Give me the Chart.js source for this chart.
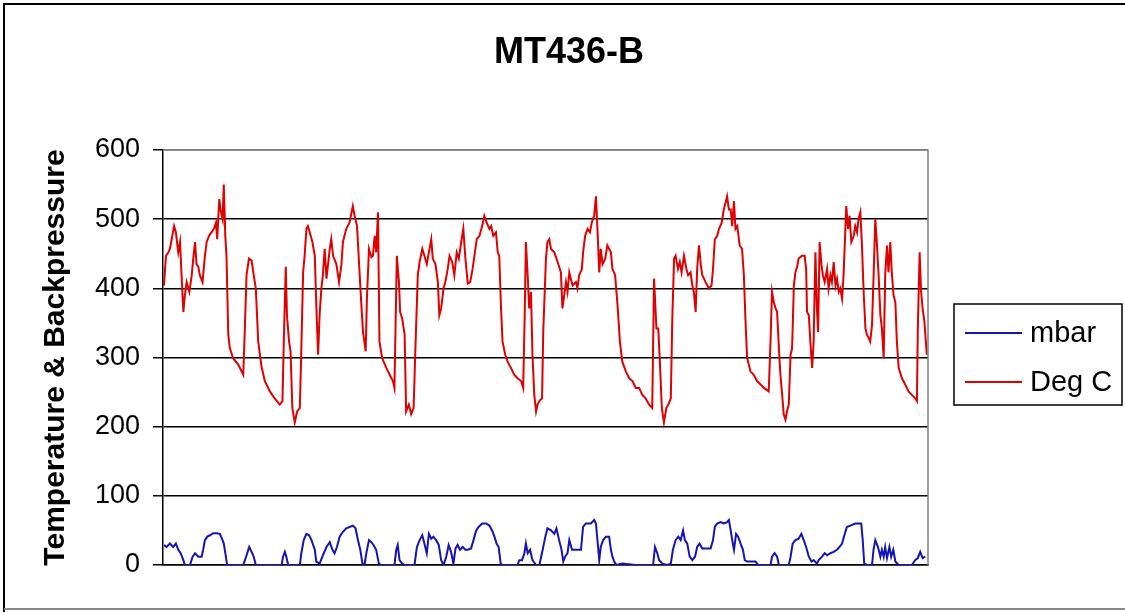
<!DOCTYPE html>
<html><head><meta charset="utf-8">
<script src="https://cdn.jsdelivr.net/npm/chart.js@4.4.1/dist/chart.umd.min.js"></script>
<style>html,body{margin:0;padding:0;background:#fff}#wrap{width:1125px;height:613px}</style>
</head><body><div id="wrap"><canvas id="c" width="1125" height="613"></canvas></div>
<script>
const chartTitle = 'MT436-B';
const yAxisTitle = 'Temperature & Backpressure';
const seriesNames = ['mbar', 'Deg C'];
const seriesColors = ['#1414b4', '#e00000'];
const yTicks = [0, 100, 200, 300, 400, 500, 600];

// sample number (position along the record) and temperature readings
const degSample = [
0.3,1.0,1.8,2.3,2.9,3.7,4.3,5.1,5.7,6.2,6.8,7.3,7.9,8.8,9.6,10.1,10.7,11.2,11.8,12.3,13.2,14.0,14.6,15.4,16.2,17.0,17.7,18.1,18.8,19.2,19.9,20.3,20.8,21.2,21.8,22.3,23.4,25.1,26.8,27.3,27.9,28.7,29.6,30.3,31.0,31.8,32.9,34.0,35.7,37.3,39.0,39.9,40.4,41.0,41.4,42.1,42.6,43.2,44.0,44.8,45.7,46.2,46.8,47.3,47.9,48.4,49.0,49.9,50.7,51.2,51.8,52.3,52.9,53.4,54.0,54.6,55.7,56.2,56.8,57.9,58.8,59.6,
60.1,61.2,62.3,63.4,64.0,64.8,65.7,66.2,66.8,67.7,68.1,68.8,69.6,70.1,70.7,71.2,71.8,72.3,73.2,74.6,75.7,76.8,77.3,77.7,78.1,78.8,79.2,79.9,80.7,81.2,82.1,82.9,83.7,84.3,85.1,85.7,86.6,87.3,88.1,88.8,89.6,90.1,91.0,91.8,92.3,92.9,93.7,94.3,95.1,95.7,96.6,97.3,98.1,98.8,99.6,100.3,101.0,101.8,102.6,103.4,104.0,104.8,105.7,106.6,107.3,108.1,109.0,109.6,110.3,111.2,111.8,112.3,112.9,113.4,114.3,115.1,116.2,117.3,118.4,119.6,120.3,120.8,121.2,121.8,122.3,122.9,123.4,124.0,124.6,125.1,
125.7,126.6,127.0,127.9,128.4,129.0,129.6,130.7,131.8,132.9,133.4,134.0,134.6,135.1,135.7,136.2,136.8,137.9,138.4,139.0,139.9,140.3,141.0,141.8,142.6,143.2,144.0,144.6,145.1,145.7,146.2,146.8,147.7,148.4,149.6,150.1,151.0,151.8,152.6,153.4,154.6,155.7,156.8,157.9,159.0,160.1,161.2,162.3,163.4,164.0,164.8,165.4,165.9,166.6,167.3,168.1,168.8,169.6,170.1,170.7,171.2,172.0,172.6,173.2,174.0,174.8,175.4,176.2,176.8,177.3,177.9,178.4,179.0,179.6,180.1,180.7,181.2,182.3,183.2,183.7,184.3,185.1,185.7,186.6,187.3,187.9,188.4,189.0,
189.6,190.1,190.7,191.2,191.8,192.6,193.4,194.0,194.6,195.1,196.2,197.3,198.4,199.6,200.7,202.3,202.9,203.4,204.0,204.6,205.1,205.7,206.2,206.8,207.3,207.9,208.4,209.0,209.6,210.1,210.7,211.2,211.8,212.3,213.4,214.3,214.8,215.1,215.7,216.2,216.8,217.3,217.9,218.4,218.8,219.3,219.9,220.4,221.0,221.8,222.3,222.9,223.4,224.0,224.6,225.1,225.7,226.2,226.8,227.3,227.9,228.2,228.8,229.3,229.9,230.7,231.2,231.8,232.3,232.9,233.4,234.0,234.6,235.1,235.7,236.2,236.8,237.3,237.9,238.4,239.0,239.6,240.1,240.7,241.2,241.8,242.3,242.9,243.4,244.0,244.6,245.1,245.7,246.8,247.9,249.0,250.1,251.2,251.8,252.1,252.7,253.2,253.7,254.3,255.1
];
const degC = [
404,447,452,457,471,490,481,452,467,419,366,390,409,395,419,443,467,435,431,419,409,447,467,476,481,486,495,471,529,514,500,550,476,447,333,314,299,290,275,337,419,443,440,419,400,323,287,266,251,241,232,237,333,431,361,323,309,227,206,222,227,313,423,447,486,490,481,467,447,376,304,361,400,419,457,414,457,471,447,435,409,435,
467,486,495,519,505,490,419,380,337,309,385,457,445,447,476,452,510,323,299,285,275,266,256,352,447,409,366,356,333,222,232,218,227,313,419,438,457,447,435,452,471,443,435,409,361,371,400,409,428,447,438,419,452,443,467,486,443,407,409,428,447,471,476,490,505,495,486,490,476,481,452,447,371,323,304,294,285,275,270,266,256,361,467,419,371,395,304,246,222,232,
237,241,338,443,467,471,457,452,438,423,371,390,409,395,423,414,404,409,400,419,428,452,476,486,481,495,505,533,486,423,457,435,443,462,452,428,419,376,323,294,280,270,266,256,256,246,241,232,227,414,342,342,299,227,206,227,232,241,356,443,447,428,438,423,447,428,419,423,404,395,366,428,462,435,419,414,409,400,404,428,471,476,486,495,514,524,533,514,
514,490,526,486,490,462,457,419,347,299,280,275,266,261,256,251,323,395,380,371,366,314,275,246,218,210,222,232,304,313,404,423,431,443,447,447,428,366,361,323,285,323,452,371,337,467,435,419,409,428,400,419,409,438,404,414,395,400,385,419,486,519,486,505,467,476,490,481,500,510,467,395,342,333,328,323,347,414,500,467,419,361,342,299,419,462,423,467,423,390,380,323,285,270,261,251,246,241,237,342,452,395,371,352,304
];

// sample number and backpressure readings
const mbarSample = [
0.3,1.2,2.3,3.4,4.3,5.1,5.9,6.8,7.3,9.0,9.9,10.7,11.8,12.9,13.4,14.0,14.8,15.7,16.8,17.9,19.0,19.9,20.3,21.0,21.4,26.8,27.9,28.8,29.6,30.3,31.0,39.6,40.1,40.7,41.2,41.8,45.7,46.2,47.0,47.9,48.8,49.6,50.7,51.2,52.3,53.4,54.6,55.7,56.6,57.3,58.1,59.0,60.1,61.2,
62.3,63.4,64.3,65.1,65.9,66.6,67.3,67.9,68.8,69.6,70.3,71.2,72.1,72.9,77.3,77.9,78.4,79.0,79.9,80.7,84.0,84.8,85.7,86.6,87.3,88.1,88.8,89.6,90.3,91.2,92.1,92.9,93.7,94.6,95.4,96.2,97.0,97.7,98.4,99.2,100.1,101.0,101.8,102.9,103.7,104.6,105.4,106.6,107.9,109.0,109.9,110.7,111.4,112.1,112.8,113.4,118.4,119.0,119.9,120.7,121.2,121.8,122.6,123.4,124.6,
125.7,126.8,127.7,128.4,129.6,130.7,131.4,132.3,133.1,133.7,134.3,135.1,135.7,136.6,139.6,140.3,141.2,142.9,144.0,144.6,145.1,145.7,146.2,147.0,147.9,149.0,149.6,150.1,150.7,151.4,153.4,157.9,163.7,164.3,165.1,165.7,166.8,168.4,169.6,170.3,171.2,172.1,172.9,173.7,174.3,175.1,175.9,176.8,177.7,178.4,179.2,180.1,182.9,183.7,184.3,185.1,186.2,187.3,188.4,189.0,
189.6,190.1,190.7,191.4,192.1,192.9,193.7,194.3,195.1,197.9,198.8,202.9,203.4,204.3,205.1,205.7,209.0,209.6,210.3,211.2,212.3,213.2,214.0,214.8,215.7,216.6,217.3,218.4,219.0,220.1,221.0,221.8,222.9,224.0,225.1,225.9,226.8,227.7,228.4,229.6,231.2,233.2,233.7,234.2,235.1,236.8,237.3,237.9,238.8,239.6,240.1,240.7,241.2,241.8,242.6,243.2,243.9,244.6,245.7,250.1,251.2,252.1,252.9,253.7,254.6
];
const mbar = [
29,26,31,26,31,22,17,7,0,0,12,17,12,12,22,36,41,43,46,46,45,36,31,12,0,0,14,26,19,12,0,0,12,19,12,0,0,17,36,45,43,36,22,5,2,14,26,33,22,17,26,41,48,53,
55,57,53,36,22,2,0,17,36,33,29,22,2,0,0,22,29,7,2,0,0,26,36,43,31,17,45,38,41,36,29,7,0,12,29,19,2,24,29,22,26,22,22,24,36,50,55,60,60,57,50,41,31,26,2,0,0,7,7,17,31,17,22,7,0,
0,22,41,53,50,45,53,36,22,5,12,17,36,22,22,55,60,60,65,60,36,7,26,36,41,41,22,12,5,0,2,0,0,26,17,7,2,0,2,22,36,41,36,50,36,31,12,7,12,26,31,24,24,36,55,60,62,60,62,65,
50,36,22,45,41,31,22,7,5,5,0,0,12,17,12,0,0,12,31,36,38,45,36,26,12,5,7,2,7,12,17,14,17,19,22,26,31,45,55,57,60,60,36,2,0,0,22,36,26,12,22,12,26,10,26,12,22,5,0,0,7,10,19,10,12
];

const toPts = (xs, ys) => xs.map((x, i) => ({x: x, y: ys[i]}));

const decor = {
  id: 'decor',
  beforeDraw(chart) {
    const c = chart.ctx;
    c.save();
    c.fillStyle = '#fff';
    c.fillRect(0, 0, chart.width, chart.height);
    c.restore();
  },
  afterDraw(chart) {
    const c = chart.ctx, a = chart.chartArea;
    c.save();
    // plot area gray border (top, right)
    c.strokeStyle = '#808080'; c.lineWidth = 1.5;
    c.beginPath(); c.moveTo(a.left, a.top); c.lineTo(a.right, a.top); c.lineTo(a.right, a.bottom); c.stroke();
    // outer frame
    c.strokeStyle = '#000'; c.lineWidth = 2;
    c.beginPath(); c.moveTo(4, 612); c.lineTo(4, 4); c.lineTo(1125, 4); c.stroke();
    c.strokeStyle = '#888'; c.lineWidth = 2;
    c.beginPath(); c.moveTo(4, 609); c.lineTo(1125, 609); c.stroke();
    // title
    c.fillStyle = '#000';
    c.font = 'bold 36px "Liberation Sans", Arial, sans-serif';
    c.textAlign = 'center'; c.textBaseline = 'middle';
    c.fillText(chartTitle, 569, 53);
    // legend
    const lx = 954, ly = 304, lw = 168, lh = 101;
    c.strokeStyle = '#000'; c.lineWidth = 1.5;
    c.strokeRect(lx, ly, lw, lh);
    c.font = '29px "Liberation Sans", Arial, sans-serif';
    c.textAlign = 'left';
    chart.data.datasets.forEach((ds, i) => {
      const y = ly + 29 + i * 49;
      c.strokeStyle = ds.borderColor; c.lineWidth = 2;
      c.beginPath(); c.moveTo(lx + 11, y); c.lineTo(lx + 68, y); c.stroke();
      c.fillStyle = '#000';
      c.fillText(ds.label, lx + 76, y + 1);
    });
    c.restore();
  }
};

new Chart(document.getElementById('c'), {
  type: 'line',
  data: {
    datasets: [
      {label: seriesNames[0], data: toPts(mbarSample, mbar), borderColor: seriesColors[0], borderWidth: 2, pointRadius: 0, tension: 0, fill: false},
      {label: seriesNames[1], data: toPts(degSample, degC), borderColor: seriesColors[1], borderWidth: 2, pointRadius: 0, tension: 0, fill: false}
    ]
  },
  options: {
    responsive: false,
    animation: false,
    layout: {padding: {left: 0, top: 150, right: 197, bottom: 48}},
    plugins: {legend: {display: false}, title: {display: false}, tooltip: {enabled: false}},
    scales: {
      x: {
        type: 'linear', min: 0, max: 255.5,
        ticks: {display: false},
        grid: {display: false},
        border: {display: true, color: '#000', width: 1.5},
        afterFit: s => { s.height = 0; }
      },
      y: {
        min: 0, max: 600,
        afterBuildTicks: s => { s.ticks = yTicks.map(v => ({value: v})); },
        afterFit: s => { s.width = 163; },
        ticks: {color: '#000', padding: 13, font: {family: '"Liberation Sans", Arial, sans-serif', size: 27}},
        grid: {
          color: ctx => (ctx.tick && ctx.tick.value === 600) ? '#808080' : '#000',
          lineWidth: 1.5, tickLength: 10, tickColor: '#000', drawTicks: true
        },
        border: {display: true, color: '#000', width: 1.5},
        title: {display: true, text: yAxisTitle, color: '#000', padding: {top: 38, bottom: 0},
          font: {family: '"Liberation Sans", Arial, sans-serif', size: 30, weight: 'bold'}}
      }
    }
  },
  plugins: [decor]
});
</script>
</body></html>
